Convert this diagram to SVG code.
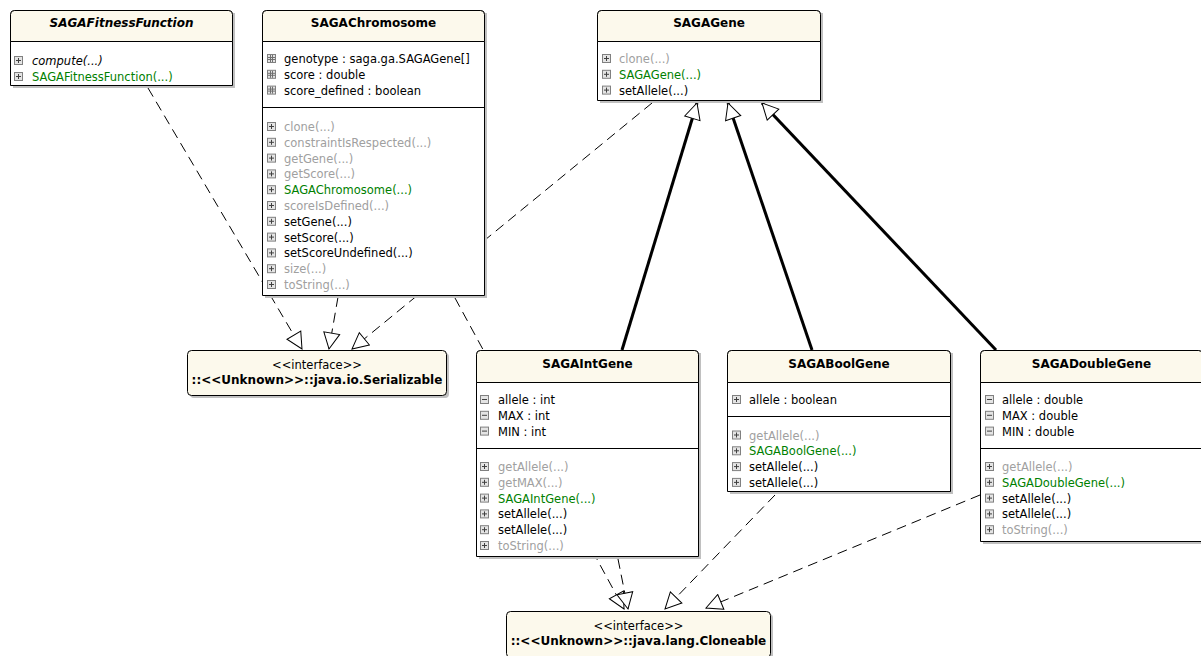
<svg xmlns="http://www.w3.org/2000/svg" xmlns:xlink="http://www.w3.org/1999/xlink" width="1201" height="656" viewBox="0 0 1201 656">
<style>
.bg{fill:#fff}
.body{fill:#fff;stroke:#000;stroke-width:1}
.hdr{fill:#fcf9ec;stroke:#000;stroke-width:1}
.iface{fill:#fcf9ec;stroke:#000;stroke-width:1}
.shadow{fill:#c0c0c0}
text{font-family:"DejaVu Sans","Liberation Sans",sans-serif;font-size:11.5px;fill:#000}
.title{font-weight:bold;font-size:12px;text-anchor:middle}
.ital{font-style:italic}
.c{text-anchor:middle}
.b{font-weight:bold;font-size:12px}
.g{fill:#a0a0a0}
.gr{fill:#008000}
.dash{fill:none;stroke:#000;stroke-width:1;stroke-dasharray:10 6;marker-end:url(#tri)}
.gen{fill:none;stroke:#000;stroke-width:3;marker-end:url(#tri)}
</style>
<defs>
<marker id="tri" markerUnits="userSpaceOnUse" markerWidth="18" markerHeight="18" viewBox="0 0 18 18" refX="17" refY="9" orient="auto">
<path d="M1,1 L17,9 L1,17 Z" fill="#fff" stroke="#000" stroke-width="1"/>
</marker>
<g id="ip"><rect x="0.5" y="0.5" width="8" height="8" fill="#e4e4e4" stroke="#808080"/><path d="M2,4.5 H7 M4.5,2 V7" stroke="#404040" fill="none"/></g>
<g id="im"><rect x="0.5" y="0.5" width="8" height="8" fill="#e4e4e4" stroke="#808080"/><path d="M2,4.5 H7" stroke="#404040" fill="none"/></g>
<g id="ih"><rect x="0.5" y="0.5" width="8" height="8" fill="#e4e4e4" stroke="#808080"/><path d="M3.5,1 V8 M5.5,1 V8 M1,3.5 H8 M1,5.5 H8" stroke="#707070" fill="none"/></g>
</defs>
<rect class="bg" x="0" y="0" width="1201" height="656"/>

<g id="connectors">
<line class="dash" x1="148" y1="88" x2="302" y2="349"/>
<line class="dash" x1="338" y1="297" x2="329" y2="349"/>
<line class="dash" x1="652" y1="103" x2="352" y2="349"/>
<line class="dash" x1="455" y1="298" x2="624" y2="609"/>
<line class="dash" x1="618" y1="559" x2="628" y2="609"/>
<line class="dash" x1="775" y1="495" x2="665" y2="609"/>
<line class="dash" x1="980" y1="495" x2="706" y2="608"/>
<line class="gen" x1="622" y1="350" x2="697" y2="103"/>
<line class="gen" x1="812" y1="350" x2="728" y2="103"/>
<line class="gen" x1="996" y1="350" x2="762" y2="103"/>
</g>

<g id="SAGAFitnessFunction">
<rect class="shadow" x="13" y="13" width="222" height="75"/>
<path class="body" d="M10.5,85.5 V14.5 Q10.5,10.5 14.5,10.5 H228.5 Q232.5,10.5 232.5,14.5 V85.5 Z"/>
<path class="hdr" d="M10.5,41.5 V14.5 Q10.5,10.5 14.5,10.5 H228.5 Q232.5,10.5 232.5,14.5 V41.5 Z"/>
<text class="title ital" x="121.5" y="27">SAGAFitnessFunction</text>
<use xlink:href="#ip" x="14" y="56"/><text class="ital" x="32" y="65">compute(...)</text>
<use xlink:href="#ip" x="14" y="72"/><text class="gr" x="32" y="81">SAGAFitnessFunction(...)</text>
</g>

<g id="SAGAChromosome">
<rect class="shadow" x="265" y="13" width="222" height="285"/>
<path class="body" d="M262.5,295.5 V14.5 Q262.5,10.5 266.5,10.5 H480.5 Q484.5,10.5 484.5,14.5 V295.5 Z"/>
<path class="hdr" d="M262.5,41.5 V14.5 Q262.5,10.5 266.5,10.5 H480.5 Q484.5,10.5 484.5,14.5 V41.5 Z"/>
<line x1="262.5" y1="107.5" x2="484.5" y2="107.5" stroke="#000"/>
<text class="title" x="373.5" y="27">SAGAChromosome</text>
<use xlink:href="#ih" x="267" y="54"/><text x="284" y="63">genotype : saga.ga.SAGAGene[]</text>
<use xlink:href="#ih" x="267" y="69.8"/><text x="284" y="78.8">score : double</text>
<use xlink:href="#ih" x="267" y="85.6"/><text x="284" y="94.6">score_defined : boolean</text>
<use xlink:href="#ip" x="267" y="122"/><text class="g" x="284" y="131">clone(...)</text>
<use xlink:href="#ip" x="267" y="137.8"/><text class="g" x="284" y="146.8">constraintIsRespected(...)</text>
<use xlink:href="#ip" x="267" y="153.6"/><text class="g" x="284" y="162.6">getGene(...)</text>
<use xlink:href="#ip" x="267" y="169.4"/><text class="g" x="284" y="178.4">getScore(...)</text>
<use xlink:href="#ip" x="267" y="185.2"/><text class="gr" x="284" y="194.2">SAGAChromosome(...)</text>
<use xlink:href="#ip" x="267" y="201"/><text class="g" x="284" y="210">scoreIsDefined(...)</text>
<use xlink:href="#ip" x="267" y="216.8"/><text x="284" y="225.8">setGene(...)</text>
<use xlink:href="#ip" x="267" y="232.6"/><text x="284" y="241.6">setScore(...)</text>
<use xlink:href="#ip" x="267" y="248.4"/><text x="284" y="257.4">setScoreUndefined(...)</text>
<use xlink:href="#ip" x="267" y="264.2"/><text class="g" x="284" y="273.2">size(...)</text>
<use xlink:href="#ip" x="267" y="280"/><text class="g" x="284" y="289">toString(...)</text>
</g>

<g id="SAGAGene">
<rect class="shadow" x="600" y="13" width="223" height="90"/>
<path class="body" d="M597.5,100.5 V14.5 Q597.5,10.5 601.5,10.5 H816.5 Q820.5,10.5 820.5,14.5 V100.5 Z"/>
<path class="hdr" d="M597.5,41.5 V14.5 Q597.5,10.5 601.5,10.5 H816.5 Q820.5,10.5 820.5,14.5 V41.5 Z"/>
<text class="title" x="709" y="27">SAGAGene</text>
<use xlink:href="#ip" x="602" y="54"/><text class="g" x="619" y="63">clone(...)</text>
<use xlink:href="#ip" x="602" y="69.8"/><text class="gr" x="619" y="78.8">SAGAGene(...)</text>
<use xlink:href="#ip" x="602" y="85.6"/><text x="619" y="94.6">setAllele(...)</text>
</g>

<g id="Serializable">
<rect class="shadow" x="190" y="353" width="259" height="45" rx="4"/>
<rect class="iface" x="187.5" y="350.5" width="259" height="45" rx="4"/>
<text class="c" x="317" y="369">&lt;&lt;interface&gt;&gt;</text>
<text class="c b" x="317" y="384">::&lt;&lt;Unknown&gt;&gt;::java.io.Serializable</text>
</g>

<g id="SAGAIntGene">
<rect class="shadow" x="479" y="353" width="222" height="206"/>
<path class="body" d="M476.5,556.5 V354.5 Q476.5,350.5 480.5,350.5 H694.5 Q698.5,350.5 698.5,354.5 V556.5 Z"/>
<path class="hdr" d="M476.5,382.5 V354.5 Q476.5,350.5 480.5,350.5 H694.5 Q698.5,350.5 698.5,354.5 V382.5 Z"/>
<line x1="476.5" y1="448.5" x2="698.5" y2="448.5" stroke="#000"/>
<text class="title" x="587.5" y="367.5">SAGAIntGene</text>
<use xlink:href="#im" x="480" y="395"/><text x="498" y="404">allele : int</text>
<use xlink:href="#im" x="480" y="410.8"/><text x="498" y="419.8">MAX : int</text>
<use xlink:href="#im" x="480" y="426.6"/><text x="498" y="435.6">MIN : int</text>
<use xlink:href="#ip" x="480" y="462"/><text class="g" x="498" y="471">getAllele(...)</text>
<use xlink:href="#ip" x="480" y="477.8"/><text class="g" x="498" y="486.8">getMAX(...)</text>
<use xlink:href="#ip" x="480" y="493.6"/><text class="gr" x="498" y="502.6">SAGAIntGene(...)</text>
<use xlink:href="#ip" x="480" y="509.4"/><text x="498" y="518.4">setAllele(...)</text>
<use xlink:href="#ip" x="480" y="525.2"/><text x="498" y="534.2">setAllele(...)</text>
<use xlink:href="#ip" x="480" y="541"/><text class="g" x="498" y="550">toString(...)</text>
</g>

<g id="SAGABoolGene">
<rect class="shadow" x="730" y="353" width="223" height="141"/>
<path class="body" d="M727.5,491.5 V354.5 Q727.5,350.5 731.5,350.5 H946.5 Q950.5,350.5 950.5,354.5 V491.5 Z"/>
<path class="hdr" d="M727.5,382.5 V354.5 Q727.5,350.5 731.5,350.5 H946.5 Q950.5,350.5 950.5,354.5 V382.5 Z"/>
<line x1="727.5" y1="416.5" x2="950.5" y2="416.5" stroke="#000"/>
<text class="title" x="839" y="367.5">SAGABoolGene</text>
<use xlink:href="#ip" x="732" y="395"/><text x="749" y="404">allele : boolean</text>
<use xlink:href="#ip" x="732" y="430.5"/><text class="g" x="749" y="439.5">getAllele(...)</text>
<use xlink:href="#ip" x="732" y="446.3"/><text class="gr" x="749" y="455.3">SAGABoolGene(...)</text>
<use xlink:href="#ip" x="732" y="462.1"/><text x="749" y="471.1">setAllele(...)</text>
<use xlink:href="#ip" x="732" y="477.9"/><text x="749" y="486.9">setAllele(...)</text>
</g>

<g id="SAGADoubleGene">
<rect class="shadow" x="983" y="353" width="222" height="191"/>
<path class="body" d="M980.5,541.5 V354.5 Q980.5,350.5 984.5,350.5 H1198.5 Q1202.5,350.5 1202.5,354.5 V541.5 Z"/>
<path class="hdr" d="M980.5,382.5 V354.5 Q980.5,350.5 984.5,350.5 H1198.5 Q1202.5,350.5 1202.5,354.5 V382.5 Z"/>
<line x1="980.5" y1="448.5" x2="1202.5" y2="448.5" stroke="#000"/>
<text class="title" x="1091.5" y="367.5">SAGADoubleGene</text>
<use xlink:href="#im" x="985" y="395"/><text x="1002" y="404">allele : double</text>
<use xlink:href="#im" x="985" y="410.8"/><text x="1002" y="419.8">MAX : double</text>
<use xlink:href="#im" x="985" y="426.6"/><text x="1002" y="435.6">MIN : double</text>
<use xlink:href="#ip" x="985" y="462"/><text class="g" x="1002" y="471">getAllele(...)</text>
<use xlink:href="#ip" x="985" y="477.8"/><text class="gr" x="1002" y="486.8">SAGADoubleGene(...)</text>
<use xlink:href="#ip" x="985" y="493.6"/><text x="1002" y="502.6">setAllele(...)</text>
<use xlink:href="#ip" x="985" y="509.4"/><text x="1002" y="518.4">setAllele(...)</text>
<use xlink:href="#ip" x="985" y="525.2"/><text class="g" x="1002" y="534.2">toString(...)</text>
</g>

<g id="Cloneable">
<rect class="shadow" x="509" y="614" width="264" height="46" rx="4"/>
<rect class="iface" x="506.5" y="611.5" width="264" height="46" rx="4"/>
<text class="c" x="638.5" y="630">&lt;&lt;interface&gt;&gt;</text>
<text class="c b" x="638.5" y="645">::&lt;&lt;Unknown&gt;&gt;::java.lang.Cloneable</text>
</g>
</svg>
